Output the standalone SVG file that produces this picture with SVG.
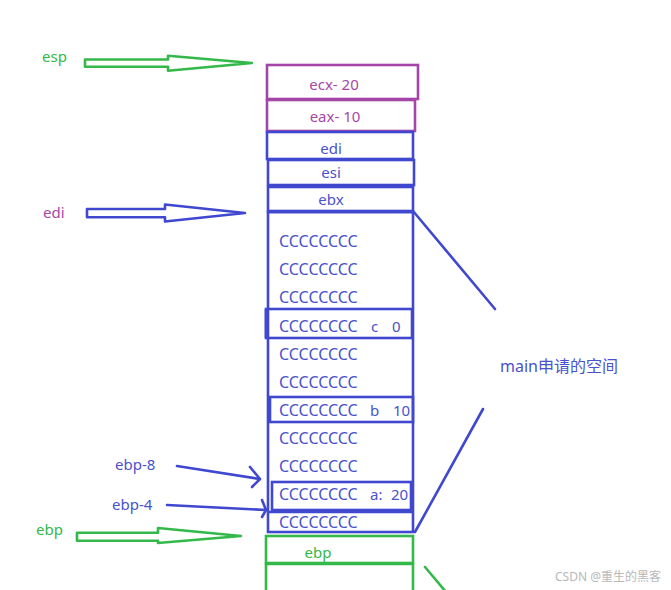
<svg xmlns="http://www.w3.org/2000/svg" width="671" height="590" viewBox="0 0 671 590">
<style>
.bg{fill:#fff}
.bx{fill:none;stroke:#4048cf;stroke-width:2.6}
.pb{fill:none;stroke:#a446a8;stroke-width:2.6}
.gb{fill:none;stroke:#34b84a;stroke-width:2.6}
.ln{fill:none;stroke:#4048cf;stroke-width:2.6;stroke-linecap:round;stroke-linejoin:round}
.gl{fill:none;stroke:#34b84a;stroke-width:2.6;stroke-linecap:round}
.ga{fill:none;stroke:#34b84a;stroke-width:2.6;stroke-linejoin:round}
.ba{fill:none;stroke:#4048cf;stroke-width:2.6;stroke-linejoin:round}
text{font-family:"Noto Sans","Noto Sans CJK SC",sans-serif;font-size:15px}
.tb{fill:#4a52cc}
.tp{fill:#a548a8}
.tg{fill:#34b84a}
.c{font-size:16px}
.m{font-size:16px}
.wm{fill:#b8b8b8;font-size:12px}
</style>
<rect class="bg" width="671" height="590"/>
<g id="connectors">
<path id="esp-arrow" class="ga" d="M85,59.5 H168 V55.7 L252,63 L168,70.7 V66.7 H85 Z"/>
<path id="edi-arrow" class="ba" d="M87,209 H165 V204.5 L245,213 L165,221.5 V217.3 H87 Z"/>
<path id="ebp-arrow" class="ga" d="M77,532.7 H158 V528 L241,536 L158,543 V540.7 H77 Z"/>
<path class="ln" d="M177,466 L260,479 M250,467 L260,479 L252,487"/>
<path class="ln" d="M167,505 L266,510 M262,500 L266,510 L262,517"/>
<path class="ln" d="M413,211 L495,309"/>
<path class="ln" d="M483,409 L415,532"/>
<path class="gl" d="M425,567 L446,592"/>
</g>
<g id="ecx"><rect class="pb" x="267" y="65" width="151" height="34"/><text class="tp" x="334" y="90" text-anchor="middle">ecx- 20</text></g>
<g id="eax"><rect class="pb" x="267" y="100" width="148" height="31"/><text class="tp" x="335" y="122" text-anchor="middle">eax- 10</text></g>
<g id="edi"><rect class="bx" x="267" y="132" width="146" height="27"/><text class="tb" x="331" y="154" text-anchor="middle">edi</text></g>
<g id="esi"><rect class="bx" x="268" y="160" width="146" height="25"/><text class="tb" x="331" y="178" text-anchor="middle">esi</text></g>
<g id="ebx"><rect class="bx" x="268" y="187" width="145" height="24"/><text class="tb" x="331" y="205" text-anchor="middle">ebx</text></g>
<g id="main-frame">
<rect class="bx" x="268" y="212" width="145" height="320"/>
<path class="bx" d="M268,212 H413" stroke-width="4"/>
<text class="tb c" x="279" y="247">CCCCCCCC</text>
<text class="tb c" x="279" y="275">CCCCCCCC</text>
<text class="tb c" x="279" y="303">CCCCCCCC</text>
<text class="tb c" x="279" y="360">CCCCCCCC</text>
<text class="tb c" x="279" y="388">CCCCCCCC</text>
<text class="tb c" x="279" y="444">CCCCCCCC</text>
<text class="tb c" x="279" y="472">CCCCCCCC</text>
</g>
<g id="var-c"><rect class="bx" x="266" y="309" width="146" height="29"/><path class="bx" d="M266,309 V338" stroke-width="4"/><text class="tb c" x="279" y="332">CCCCCCCC</text><text class="tb" x="371" y="332">c</text><text class="tb" x="392" y="332">0</text></g>
<g id="var-b"><rect class="bx" x="270" y="397" width="143" height="25"/><text class="tb c" x="279" y="416">CCCCCCCC</text><text class="tb" x="370" y="416">b</text><text class="tb" x="393" y="416">10</text></g>
<g id="var-a"><rect class="bx" x="272" y="482" width="139" height="28"/><text class="tb c" x="279" y="500">CCCCCCCC</text><text class="tb" x="370" y="500">a:</text><text class="tb" x="391" y="500">20</text></g>
<g id="bottom-row"><path class="bx" d="M268,512 H413"/><text class="tb c" x="279" y="528">CCCCCCCC</text></g>
<g id="ebp-box"><rect class="gb" x="266" y="536" width="147" height="27"/><text class="tg" x="318" y="558" text-anchor="middle">ebp</text></g>
<g id="prev-frame"><path class="gb" d="M266,592 V564 H413 V592" stroke-width="3"/></g>
<g id="labels">
<text class="tg" x="42" y="62">esp</text>
<text class="tp" x="43" y="218">edi</text>
<text class="tb" x="115" y="470">ebp-8</text>
<text class="tb" x="112" y="510">ebp-4</text>
<text class="tg" x="36" y="535">ebp</text>
<text class="tb m" x="500" y="372">main申请的空间</text>
<text class="wm" x="555" y="581">CSDN @重生的黑客</text>
</g>
</svg>
